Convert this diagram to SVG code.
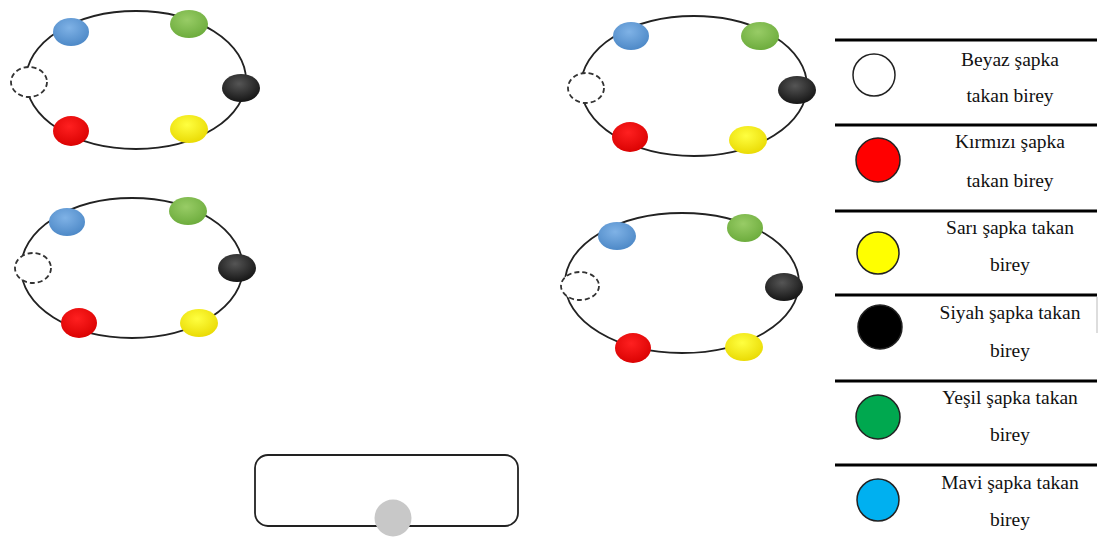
<svg xmlns="http://www.w3.org/2000/svg" width="1099" height="540" viewBox="0 0 1099 540">
<defs>
<radialGradient id="gBlue" cx="0.45" cy="0.35" r="0.7"><stop offset="0" stop-color="#7fb2e6"/><stop offset="1" stop-color="#4a86c5"/></radialGradient>
<radialGradient id="gGreen" cx="0.45" cy="0.35" r="0.7"><stop offset="0" stop-color="#98cc66"/><stop offset="1" stop-color="#6aaa3a"/></radialGradient>
<radialGradient id="gBlack" cx="0.45" cy="0.35" r="0.7"><stop offset="0" stop-color="#555"/><stop offset="1" stop-color="#111"/></radialGradient>
<radialGradient id="gYellow" cx="0.45" cy="0.35" r="0.7"><stop offset="0" stop-color="#ffff40"/><stop offset="1" stop-color="#e8d800"/></radialGradient>
<radialGradient id="gRed" cx="0.45" cy="0.35" r="0.7"><stop offset="0" stop-color="#ff2020"/><stop offset="1" stop-color="#d80000"/></radialGradient>
</defs>
<style>
.ring{fill:none;stroke:#222;stroke-width:1.8}
.empty{fill:#fff;stroke:#333;stroke-width:1.8;stroke-dasharray:5 3}
.blue{fill:url(#gBlue)}
.green{fill:url(#gGreen)}
.black{fill:url(#gBlack)}
.yellow{fill:url(#gYellow)}
.red{fill:url(#gRed)}
.rule{stroke:#000;stroke-width:3}
.lc{stroke:#222;stroke-width:1.5}
.lt{font-size:19.5px;fill:#111;text-anchor:middle}
</style>
<rect width="1099" height="540" fill="#fff"/>

<g id="ring1">
<ellipse class="ring" cx="136" cy="80" rx="110" ry="69"/>
<ellipse class="empty" cx="29" cy="82" rx="18" ry="15"/>
<ellipse class="blue" cx="71" cy="32" rx="18" ry="14"/>
<ellipse class="green" cx="189" cy="24" rx="19" ry="14"/>
<ellipse class="black" cx="241" cy="88" rx="19" ry="14"/>
<ellipse class="yellow" cx="189" cy="129" rx="19" ry="14"/>
<ellipse class="red" cx="71" cy="131" rx="18" ry="15"/>
</g>

<g id="ring2">
<ellipse class="ring" cx="132" cy="268" rx="111" ry="70"/>
<ellipse class="empty" cx="33" cy="268" rx="18" ry="15"/>
<ellipse class="blue" cx="67" cy="222" rx="18" ry="14"/>
<ellipse class="green" cx="188" cy="211" rx="19" ry="14"/>
<ellipse class="black" cx="237" cy="268" rx="19" ry="14"/>
<ellipse class="yellow" cx="199" cy="323" rx="19" ry="14"/>
<ellipse class="red" cx="79" cy="323" rx="18" ry="15"/>
</g>

<g id="ring3">
<ellipse class="ring" cx="694" cy="86" rx="113" ry="70"/>
<ellipse class="empty" cx="586" cy="88" rx="18" ry="15"/>
<ellipse class="blue" cx="631" cy="36" rx="18" ry="14"/>
<ellipse class="green" cx="760" cy="36" rx="19" ry="14"/>
<ellipse class="black" cx="797" cy="90" rx="19" ry="14"/>
<ellipse class="yellow" cx="748" cy="140" rx="19" ry="14"/>
<ellipse class="red" cx="630" cy="137" rx="18" ry="15"/>
</g>

<g id="ring4">
<ellipse class="ring" cx="682" cy="283" rx="117" ry="70"/>
<ellipse class="empty" cx="580" cy="286" rx="19" ry="14"/>
<ellipse class="blue" cx="617" cy="236" rx="19" ry="14"/>
<ellipse class="green" cx="745" cy="228" rx="18" ry="14"/>
<ellipse class="black" cx="784" cy="287" rx="19" ry="14"/>
<ellipse class="yellow" cx="744" cy="347" rx="19" ry="14"/>
<ellipse class="red" cx="633" cy="348" rx="18" ry="15"/>
</g>

<g id="box">
<rect x="255" y="455" width="263" height="71" rx="13" fill="none" stroke="#222" stroke-width="1.8"/>
<circle cx="393" cy="518" r="18.5" fill="#c8c8c8"/>
</g>

<g id="legend" font-family="'Liberation Serif', 'DejaVu Serif', serif">
<line class="rule" x1="835" y1="40" x2="1097" y2="40"/>
<line class="rule" x1="835" y1="125" x2="1097" y2="125"/>
<line class="rule" x1="835" y1="211" x2="1097" y2="211"/>
<line class="rule" x1="835" y1="295" x2="1097" y2="295"/>
<line class="rule" x1="835" y1="381" x2="1097" y2="381"/>
<line class="rule" x1="835" y1="465" x2="1097" y2="465"/>
<line x1="1097" y1="297" x2="1097" y2="333" stroke="#bbb" stroke-width="1"/>

<g id="leg-white">
<circle class="lc" cx="874" cy="75" r="21" fill="#fff"/>
<text class="lt" x="1010" y="66">Beyaz şapka</text>
<text class="lt" x="1010" y="102">takan birey</text>
</g>
<g id="leg-red">
<circle class="lc" cx="878" cy="160" r="22" fill="#ff0000"/>
<text class="lt" x="1010" y="148">Kırmızı şapka</text>
<text class="lt" x="1010" y="187">takan birey</text>
</g>
<g id="leg-yellow">
<circle class="lc" cx="878" cy="253" r="21" fill="#ffff00"/>
<text class="lt" x="1010" y="234">Sarı şapka takan</text>
<text class="lt" x="1010" y="271">birey</text>
</g>
<g id="leg-black">
<circle class="lc" cx="880" cy="327" r="22" fill="#000"/>
<text class="lt" x="1010" y="319">Siyah şapka takan</text>
<text class="lt" x="1010" y="357">birey</text>
</g>
<g id="leg-green">
<circle class="lc" cx="878" cy="417" r="22" fill="#00a84f"/>
<text class="lt" x="1010" y="404">Yeşil şapka takan</text>
<text class="lt" x="1010" y="441">birey</text>
</g>
<g id="leg-blue">
<circle class="lc" cx="878" cy="500" r="21" fill="#00b0f0"/>
<text class="lt" x="1010" y="489">Mavi şapka takan</text>
<text class="lt" x="1010" y="526">birey</text>
</g>
</g>
</svg>
